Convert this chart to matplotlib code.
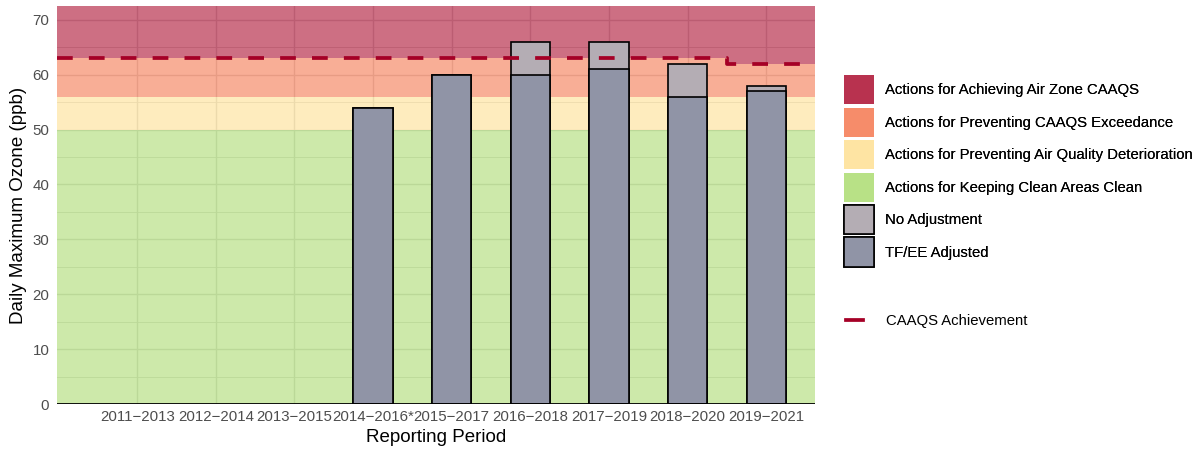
import matplotlib
matplotlib.use("Agg")
import matplotlib.pyplot as plt
from matplotlib.patches import Patch
from matplotlib.lines import Line2D
import numpy as np

plt.rcParams['font.family'] = ['Liberation Sans', 'DejaVu Sans']

# ---- data ----
periods = ["2011\u22122013", "2012\u22122014", "2013\u22122015", "2014\u22122016*",
           "2015\u22122017", "2016\u22122018", "2017\u22122019", "2018\u22122020", "2019\u22122021"]
no_adjustment = [np.nan, np.nan, np.nan, 54, 60, 66, 66, 62, 58]
tfee_adjusted = [np.nan, np.nan, np.nan, 54, 60, 60, 61, 56, 57]
caaqs_achievement = [63, 63, 63, 63, 63, 63, 63, 63, 62]
band_lower = [0, 50, 56]          # green, yellow, orange lower bounds
y_top = 72.5
band_labels = ["Actions for Keeping Clean Areas Clean",
               "Actions for Preventing Air Quality Deterioration",
               "Actions for Preventing CAAQS Exceedance",
               "Actions for Achieving Air Zone CAAQS"]
band_colors = ["#B8E186", "#FEE4A3", "#F68C6A", "#B8324F"]
y_ticks = [0, 10, 20, 30, 40, 50, 60, 70]

col_noadj = "#B4ADB4"
col_adj = "#9094A6"
col_line = "#A50026"

fig = plt.figure(figsize=(12.02, 4.5), dpi=100)
ax = fig.add_axes([57/1202, 1 - 404/450, (815 - 57)/1202, (404 - 6)/450])

x = np.arange(1, len(periods) + 1)
xlim = (-0.02, 9.62)
ax.set_xlim(*xlim)
ax.set_ylim(0, y_top)

# grid
for xv in x:
    ax.axvline(xv, color="#C4C4C4", lw=1.0, zorder=0)
for yv in np.arange(0, 72.5, 5):
    ax.axhline(yv, color="#C4C4C4", lw=1.0 if yv % 10 == 0 else 0.6, zorder=0)

# step edges for the CAAQS level
edges = np.array([xlim[0]] + list(x[:-1] + 0.5) + [xlim[1]])
caaqs_ext = np.array(caaqs_achievement + [caaqs_achievement[-1]], dtype=float)

# bands
ax.axhspan(band_lower[0], band_lower[1], color=band_colors[0], alpha=0.7, lw=0, zorder=1)
ax.axhspan(band_lower[1], band_lower[2], color=band_colors[1], alpha=0.7, lw=0, zorder=1)
ax.fill_between(edges, band_lower[2], caaqs_ext, step='post', color=band_colors[2],
                alpha=0.7, lw=0, zorder=1)
ax.fill_between(edges, caaqs_ext, y_top, step='post', color=band_colors[3],
                alpha=0.7, lw=0, zorder=1)

# bars
ax.bar(x, no_adjustment, width=0.5, color=col_noadj, edgecolor="black", lw=1.2, zorder=3)
ax.bar(x, tfee_adjusted, width=0.5, color=col_adj, edgecolor="black", lw=1.2, zorder=4)

# CAAQS step line
ax.step(edges, caaqs_ext, where='post', color=col_line, lw=2.7,
        linestyle=(0, (4.2, 4.3)), zorder=5, dash_capstyle='butt')

ax.axhline(0, color="black", lw=1.3, zorder=6)

for s in ax.spines.values():
    s.set_visible(False)
ax.set_xticks(x)
ax.set_xticklabels(periods)
ax.set_yticks(y_ticks)
ax.tick_params(length=0, labelsize=10.8, labelcolor="#4D4D4D", pad=4)
ax.tick_params(axis='y', pad=5.5)
ax.set_xlabel("Reporting Period", fontsize=13.5, labelpad=4)
ax.set_ylabel("Daily Maximum Ozone (ppb)", fontsize=13.5, labelpad=4)

# legends
handles1 = [Patch(facecolor=band_colors[3], edgecolor='none'),
            Patch(facecolor=band_colors[2], edgecolor='none'),
            Patch(facecolor=band_colors[1], edgecolor='none'),
            Patch(facecolor=band_colors[0], edgecolor='none'),
            Patch(facecolor=col_noadj, edgecolor='black', lw=1.2),
            Patch(facecolor=col_adj, edgecolor='black', lw=1.2)]
labels1 = [band_labels[3], band_labels[2], band_labels[1], band_labels[0],
           "No Adjustment", "TF/EE Adjusted"]
fs = 10.7
leg1 = fig.legend(handles1, labels1, loc='upper left', bbox_to_anchor=(844/1202, 1 - 75/450),
                  frameon=False, fontsize=fs, handlelength=21.6/fs, handleheight=(21.0/fs - 0.245)/0.65,
                  labelspacing=2.4/fs, handletextpad=8/fs, borderpad=0, borderaxespad=0)
leg2 = fig.legend([Line2D([0], [0], color=col_line, lw=2.7)], ["CAAQS Achievement"],
                  loc='center left', bbox_to_anchor=(846/1202, 1 - 321/450),
                  frameon=False, fontsize=fs, handlelength=12.2/fs, handletextpad=16.5/fs,
                  borderpad=0, borderaxespad=0)
fig.add_artist(leg1)

fig.savefig("out.png", dpi=100)
